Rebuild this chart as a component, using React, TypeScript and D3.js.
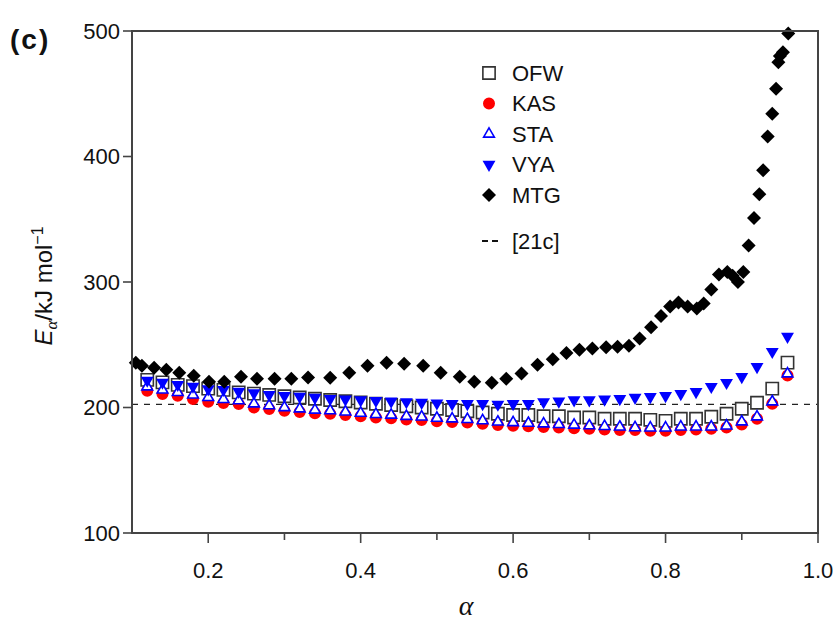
import React from 'react';
import * as d3 from 'd3';

// conversion degree (shared by OFW, KAS, STA, VYA)
const alpha = [
  0.12, 0.14, 0.16, 0.18, 0.2, 0.22, 0.24, 0.26, 0.28, 0.3, 0.32, 0.34, 0.36, 0.38, 0.4,
  0.42, 0.44, 0.46, 0.48, 0.5, 0.52, 0.54, 0.56, 0.58, 0.6, 0.62, 0.64, 0.66, 0.68, 0.7,
  0.72, 0.74, 0.76, 0.78, 0.8, 0.82, 0.84, 0.86, 0.88, 0.9, 0.92, 0.94, 0.96
];

const ofw = [
  222, 220, 218, 217, 215, 214, 212, 211, 210, 209, 208, 207, 206, 205, 204,
  203, 202, 201, 200, 199, 198, 197, 196, 195, 194, 194, 193, 193, 192, 192,
  191, 191, 191, 190.2, 189.4, 191, 191, 192.6, 195, 199, 203.8, 215, 235.7
];

const kas = [
  213.4, 210.7, 209.4, 206.7, 204.6, 203.5, 202.7, 200, 198.8, 197.4, 196.5, 195.5, 195, 194, 193,
  192, 191.5, 190.5, 190, 189, 188.5, 188, 187, 186, 185.5, 185, 184.5, 184, 183.5, 183,
  182.5, 182, 182, 181.5, 181.5, 182, 182.5, 183, 184, 186.5, 191, 203, 225.5
];

const sta = [
  216.5, 214, 212, 210, 208, 206.5, 205.5, 203, 201.5, 200, 199, 198, 197.5, 196.5, 195.5,
  194.5, 194, 193, 192.5, 191.5, 191, 190.5, 189.5, 188.5, 188, 187.5, 187, 186.5, 186, 185.5,
  185, 184.5, 184, 183.8, 183.8, 184.6, 184.6, 184.6, 185.4, 188.6, 192.6, 204.6, 226.9
];

const vya = [
  221.6, 220, 218.2, 216.8, 214.7, 214.2, 212.8, 211.5, 210.2, 209.4, 208.8, 208, 207, 206.5, 206,
  205.5, 205, 204.5, 204, 203.5, 203, 203, 203, 202.5, 203, 203, 204.5, 205, 206, 206,
  206.5, 207, 208, 208.6, 209.4, 211, 212.6, 216.6, 219.8, 224.5, 232.5, 244.5, 256.5
];

// MTG has its own alpha grid
const mtgAlpha = [
  0.105, 0.113, 0.129, 0.145, 0.162, 0.181, 0.201, 0.221, 0.243, 0.264, 0.287, 0.309, 0.331,
  0.36, 0.385, 0.409, 0.434, 0.457, 0.482, 0.505, 0.53, 0.549, 0.572, 0.591, 0.611, 0.632,
  0.652, 0.67, 0.687, 0.704, 0.722, 0.737, 0.752, 0.766, 0.781, 0.794, 0.806, 0.817, 0.829,
  0.841, 0.85, 0.86, 0.87, 0.881, 0.888, 0.895, 0.902, 0.909, 0.916, 0.923, 0.928, 0.934,
  0.94, 0.945, 0.948, 0.95, 0.954, 0.961
];
const mtg = [
  235.7, 233.3, 231.7, 230.1, 227.7, 225.3, 220.6, 220.6, 224.5, 223, 223, 223, 224,
  223.8, 227.7, 233.3, 235.7, 234.9, 233.3, 227.7, 224.5, 220.6, 219.8, 223, 227, 234,
  238.5, 243.5, 246, 247, 248, 248.5, 249.3, 255, 264, 273, 280.4, 283.6, 280.4,
  278.8, 282.8, 294, 306, 308, 305, 300, 308, 329, 351, 370, 389, 416,
  434, 454, 475, 480, 483, 498
];

const refLine = 202.5; // [21c]

const xTicks = [0.2, 0.4, 0.6, 0.8, 1.0];
const xMinor = [0.3, 0.5, 0.7, 0.9];
const yTicks = [100, 200, 300, 400, 500];

const legendItems = ['OFW', 'KAS', 'STA', 'VYA', 'MTG'];

const W = 839;
const H = 626;
const left = 132, right = 818, top = 31, bottom = 533;

const x = d3.scaleLinear().domain([0.1, 1.0]).range([left, right]);
const y = d3.scaleLinear().domain([100, 500]).range([bottom, top]);

const FONT = '"Liberation Sans", Arial, Helvetica, sans-serif';

const squarePath = d3.symbol(d3.symbolSquare, 150)()!;
const circlePath = d3.symbol(d3.symbolCircle, 113)()!;
const triUp = d3.symbol(d3.symbolTriangle, 50)()!;
const triDown = d3.symbol(d3.symbolTriangle, 72)()!;
const diamond = d3.symbol(d3.symbolSquare, 98)()!;

function Marker({ kind, cx, cy }: { kind: string; cx: number; cy: number }) {
  const t = `translate(${cx},${cy})`;
  if (kind === 'OFW')
    return <path d={squarePath} transform={t} fill="#fff" stroke="#333" strokeWidth={1.6} />;
  if (kind === 'KAS') return <path d={circlePath} transform={t} fill="#ff0000" />;
  if (kind === 'STA')
    return <path d={triUp} transform={t} fill="#fff" stroke="#0000ff" strokeWidth={1.6} />;
  if (kind === 'VYA') return <path d={triDown} transform={`${t} rotate(180)`} fill="#0000ff" />;
  return <path d={diamond} transform={`${t} rotate(45)`} fill="#000" />;
}

export default function App() {
  const series: [string, number[]][] = [
    ['OFW', ofw],
    ['KAS', kas],
    ['STA', sta],
    ['VYA', vya]
  ];

  return (
    <svg width={W} height={H} style={{ display: 'block', position: 'absolute', left: 0, top: 0 }}>
      <rect width={W} height={H} fill="#fff" />

      {/* reference dashed line */}
      <line x1={left} x2={right} y1={y(refLine)} y2={y(refLine)} stroke="#222" strokeWidth={1.3} strokeDasharray="6,6" />

      {series.map(([name, vals]) =>
        vals.map((v, i) => <Marker key={name + i} kind={name} cx={x(alpha[i])} cy={y(v)} />)
      )}
      {mtg.map((v, i) => <Marker key={'m' + i} kind="MTG" cx={x(mtgAlpha[i])} cy={y(v)} />)}

      {/* frame */}
      <rect x={left} y={top} width={right - left} height={bottom - top} fill="none" stroke="#444" strokeWidth={2} />

      {/* y axis ticks */}
      {yTicks.map(t => (
        <g key={t}>
          <line x1={left - 9} x2={left} y1={y(t)} y2={y(t)} stroke="#444" strokeWidth={1.6} />
          <text x={left - 12} y={y(t)} dy="0.35em" textAnchor="end" fontFamily={FONT} fontSize={22} fill="#111">
            {t}
          </text>
        </g>
      ))}

      {/* x axis ticks */}
      {xTicks.map(t => (
        <g key={t}>
          <line x1={x(t)} x2={x(t)} y1={bottom} y2={bottom + 10} stroke="#444" strokeWidth={1.6} />
          <text x={x(t)} y={bottom + 45} textAnchor="middle" fontFamily={FONT} fontSize={22} fill="#111">
            {t.toFixed(1)}
          </text>
        </g>
      ))}
      {xMinor.map(t => (
        <line key={t} x1={x(t)} x2={x(t)} y1={bottom} y2={bottom + 7} stroke="#444" strokeWidth={1.6} />
      ))}

      {/* axis titles */}
      <text x={466} y={615} textAnchor="middle" fontFamily='"Liberation Serif", "DejaVu Serif", serif' fontStyle="italic" fontSize={28} fill="#111">
        α
      </text>
      <text
        transform={`translate(52,${(top + bottom) / 2 + 4}) rotate(-90)`}
        textAnchor="middle"
        fontFamily={FONT}
        fontSize={24}
        fill="#111"
      >
        <tspan fontStyle="italic">E</tspan>
        <tspan fontFamily='"Liberation Serif", serif' fontStyle="italic" fontSize={17} dy={5}>α</tspan>
        <tspan dy={-5}>/kJ mol</tspan>
        <tspan fontSize={16} dy={-9}>−1</tspan>
      </text>

      <text x={10} y={49} fontFamily={FONT} fontWeight="bold" fontSize={28} letterSpacing={2} fill="#111">
        (c)
      </text>

      {/* legend */}
      {legendItems.map((name, i) => {
        const ly = 73 + i * 30.5;
        return (
          <g key={name}>
            <Marker kind={name} cx={489} cy={ly} />
            <text x={512} y={ly} dy="0.36em" fontFamily={FONT} fontSize={22} fill="#111">
              {name}
            </text>
          </g>
        );
      })}
      <line x1={482} x2={500} y1={241} y2={241} stroke="#111" strokeWidth={1.8} strokeDasharray="6,4" />
      <text x={512} y={241} dy="0.36em" fontFamily={FONT} fontSize={22} fill="#111">
        [21c]
      </text>
    </svg>
  );
}
